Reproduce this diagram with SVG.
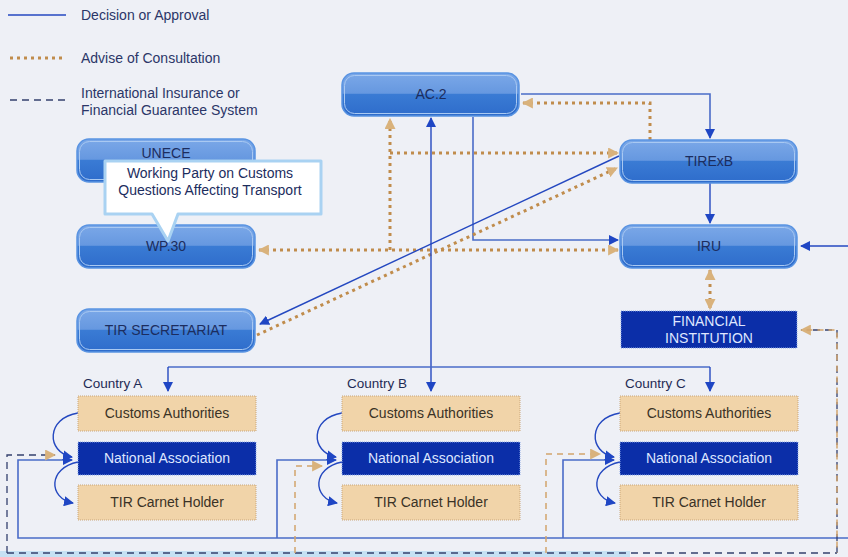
<svg xmlns="http://www.w3.org/2000/svg" width="848" height="557" viewBox="0 0 848 557">
<style>
text{font-family:"Liberation Sans",Arial,sans-serif;}
.lg{font-size:14px;fill:#2b3668;}
.nt{font-size:14px;fill:#1c2d5e;text-anchor:middle;}
.wt{font-size:14px;fill:#dfe6ff;text-anchor:middle;}
.tt{font-size:14px;fill:#3a3226;text-anchor:middle;}
.ct{font-size:13.5px;fill:#1f2b55;}
.node{fill:url(#ng);stroke:#5a94e2;stroke-width:1.5;}
.hl{fill:none;stroke:#a9c9f2;stroke-width:1;}
.tan{fill:#f1d4a9;stroke:#c9a67a;stroke-width:1;stroke-dasharray:1 1;}
.dkb{fill:#0b2ea8;stroke:#8aa6e6;stroke-width:1;stroke-dasharray:1 1;}
.solid{fill:none;stroke:#2448c0;stroke-width:1.4;}
.solid2{fill:none;stroke:#4a6cc8;stroke-width:1.6;}
.dot{fill:none;stroke:#c08c4c;stroke-width:3;stroke-dasharray:3 4;}
.dash{fill:none;stroke:#34406e;stroke-width:1.3;stroke-dasharray:7 5;}
.dasht{fill:none;stroke:#d2a46c;stroke-width:1.5;stroke-dasharray:6 5;}
</style>
<defs>
<linearGradient id="ng" x1="0" y1="0" x2="0" y2="1">
<stop offset="0" stop-color="#7ba8e8"/>
<stop offset="0.47" stop-color="#6698e0"/>
<stop offset="0.5" stop-color="#3a7bd4"/>
<stop offset="1" stop-color="#2e6ccb"/>
</linearGradient>
<marker id="ab" viewBox="0 0 10 10" refX="9" refY="5" markerWidth="10" markerHeight="10" markerUnits="userSpaceOnUse" orient="auto-start-reverse">
<path d="M0,0 L10,5 L0,10 Z" fill="#1f46c4"/>
</marker>
<marker id="at" viewBox="0 0 10 10" refX="9" refY="5" markerWidth="11" markerHeight="11" markerUnits="userSpaceOnUse" orient="auto-start-reverse">
<path d="M0,0 L10,5 L0,10 Z" fill="#d9b27c"/>
</marker>
</defs>
<rect x="0" y="0" width="848" height="557" fill="#eef0f6"/>
<rect x="0" y="551" width="630" height="6" fill="#c6e1f4"/>

<g id="legend">
<line x1="8" y1="15" x2="66" y2="15" class="solid" stroke-width="2"/>
<text x="81" y="20" class="lg">Decision or Approval</text>
<line x1="10" y1="58" x2="66" y2="58" class="dot"/>
<text x="81" y="63" class="lg">Advise of Consultation</text>
<line x1="10" y1="100" x2="66" y2="100" class="dash"/>
<text x="81" y="98" class="lg">International Insurance or</text>
<text x="81" y="115" class="lg">Financial Guarantee System</text>
</g>

<g id="connectors">
<path d="M521 94 H710 V138" class="solid2" marker-end="url(#ab)"/>
<path d="M650 140 V103 H523" class="dot" marker-end="url(#at)"/>
<path d="M710 182 V223" class="solid" marker-end="url(#ab)"/>
<path d="M473 117 V240 H618" class="solid2" marker-end="url(#ab)"/>
<path d="M390 250 V119" class="dot" marker-end="url(#at)"/>
<path d="M390 153 H618" class="dot" marker-end="url(#at)"/>
<path d="M259 250 H618" class="dot" marker-start="url(#at)" marker-end="url(#at)"/>
<path d="M619 156 L260 324" class="solid" marker-end="url(#ab)"/>
<path d="M257 335 L617 168" class="dot" marker-end="url(#at)"/>
<path d="M431 391 V118" class="solid" marker-start="url(#ab)" marker-end="url(#ab)"/>
<path d="M168 367 H710" class="solid2"/>
<path d="M168 367 V391" class="solid" marker-end="url(#ab)"/>
<path d="M710 367 V391" class="solid" marker-end="url(#ab)"/>
<path d="M848 246 H801" class="solid" marker-end="url(#ab)"/>
<path d="M710 270 V309" class="dot" marker-start="url(#at)" marker-end="url(#at)"/>
<path d="M167 181 V223" class="solid" marker-end="url(#ab)"/>
<path d="M848 538 H18 V460 H72" class="solid2" marker-end="url(#ab)"/>
<path d="M277 538 V460 H336" class="solid2" marker-end="url(#ab)"/>
<path d="M563 538 V460 H614" class="solid2" marker-end="url(#ab)"/>
<path d="M7 553 H837" class="dash"/>
<path d="M7 553 V455 H55" class="dash" marker-end="url(#at)"/>
<path d="M295 553 V466 H322" class="dasht" marker-end="url(#at)"/>
<path d="M546 553 V454 H600" class="dasht" marker-end="url(#at)"/>
<path d="M837 553 V330 H801" class="dash" marker-end="url(#at)"/>
<path d="M837 553 V330 H801" class="dasht" stroke-dashoffset="5.5" stroke-width="1.2"/>
<path d="M78 413 C46 418 46 452 72 457" class="solid" marker-end="url(#ab)"/>
<path d="M78 462 C48 468 48 498 73 503" class="solid" marker-end="url(#ab)"/>
<path d="M342 413 C310 418 310 452 336 457" class="solid" marker-end="url(#ab)"/>
<path d="M342 462 C312 468 312 498 337 503" class="solid" marker-end="url(#ab)"/>
<path d="M620 413 C588 418 588 452 614 457" class="solid" marker-end="url(#ab)"/>
<path d="M620 462 C590 468 590 498 615 503" class="solid" marker-end="url(#ab)"/>
</g>

<g id="ac2">
<rect x="342" y="73" width="177" height="43" rx="12" class="node"/>
<rect x="344.5" y="75.5" width="172" height="38" rx="10" class="hl"/>
<text x="431" y="99" class="nt">AC.2</text>
</g>
<g id="unece">
<rect x="77" y="139" width="178" height="43" rx="12" class="node"/>
<rect x="79.5" y="141.5" width="173" height="38" rx="10" class="hl"/>
<text x="166" y="157.5" class="nt" font-size="12">UNECE</text>
</g>
<g id="wp30">
<rect x="77" y="225" width="178" height="43" rx="12" class="node"/>
<rect x="79.5" y="227.5" width="173" height="38" rx="10" class="hl"/>
<text x="166" y="251" class="nt">WP.30</text>
</g>
<g id="callout">
<path d="M105 161 H321 V214 H178 L168 241 L152 214 H105 Z" fill="#ffffff" stroke="#a9d2f2" stroke-width="3" stroke-linejoin="round"/>
<text x="210" y="178" class="nt" font-size="13.5">Working Party on Customs</text>
<text x="210" y="195" class="nt" font-size="13.5">Questions Affecting Transport</text>
</g>
<g id="tirsec">
<rect x="77" y="309" width="178" height="43" rx="12" class="node"/>
<rect x="79.5" y="311.5" width="173" height="38" rx="10" class="hl"/>
<text x="166" y="335" class="nt">TIR SECRETARIAT</text>
</g>
<g id="tirexb">
<rect x="620" y="140" width="177" height="43" rx="12" class="node"/>
<rect x="622.5" y="142.5" width="172" height="38" rx="10" class="hl"/>
<text x="709" y="166" class="nt">TIRExB</text>
</g>
<g id="iru">
<rect x="620" y="225" width="177" height="43" rx="12" class="node"/>
<rect x="622.5" y="227.5" width="172" height="38" rx="10" class="hl"/>
<text x="709" y="251" class="nt">IRU</text>
</g>
<g id="financial">
<rect x="621" y="311" width="176" height="37" class="dkb"/>
<text x="709" y="326" class="wt">FINANCIAL</text>
<text x="709" y="343" class="wt">INSTITUTION</text>
</g>

<g id="countryA">
<text x="83" y="388" class="ct">Country A</text>
<rect x="78" y="396" width="178" height="35" class="tan"/>
<text x="167" y="418" class="tt">Customs Authorities</text>
<rect x="78" y="442" width="178" height="33" class="dkb"/>
<text x="167" y="463" class="wt">National Association</text>
<rect x="78" y="485" width="178" height="35" class="tan"/>
<text x="167" y="507" class="tt">TIR Carnet Holder</text>
</g>
<g id="countryB">
<text x="347" y="388" class="ct">Country B</text>
<rect x="342" y="396" width="178" height="35" class="tan"/>
<text x="431" y="418" class="tt">Customs Authorities</text>
<rect x="342" y="442" width="178" height="33" class="dkb"/>
<text x="431" y="463" class="wt">National Association</text>
<rect x="342" y="485" width="178" height="35" class="tan"/>
<text x="431" y="507" class="tt">TIR Carnet Holder</text>
</g>
<g id="countryC">
<text x="625" y="388" class="ct">Country C</text>
<rect x="620" y="396" width="178" height="35" class="tan"/>
<text x="709" y="418" class="tt">Customs Authorities</text>
<rect x="620" y="442" width="178" height="33" class="dkb"/>
<text x="709" y="463" class="wt">National Association</text>
<rect x="620" y="485" width="178" height="35" class="tan"/>
<text x="709" y="507" class="tt">TIR Carnet Holder</text>
</g>
</svg>
